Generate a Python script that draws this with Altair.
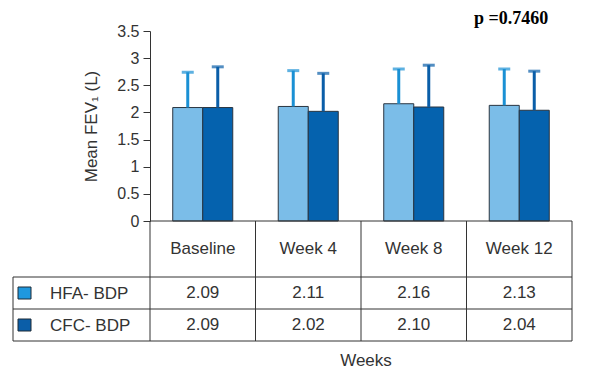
import altair as alt
import pandas as pd

# ---- data ----
weeks = ["Baseline", "Week 4", "Week 8", "Week 12"]
series = ["HFA- BDP", "CFC- BDP"]
hfa_mean = [2.09, 2.11, 2.16, 2.13]
cfc_mean = [2.09, 2.02, 2.10, 2.04]
hfa_upper = [2.74, 2.77, 2.80, 2.80]
cfc_upper = [2.84, 2.72, 2.87, 2.76]
y_ticks = [0, 0.5, 1, 1.5, 2, 2.5, 3, 3.5]
p_label = "p =0.7460"
y_title = "Mean FEV\u2081 (L)"
x_title = "Weeks"

bar_colors = ["#7bbde8", "#0562ae"]
err_colors = ["#1a90d4", "#0a5ea8"]
key_colors = ["#1f98de", "#0b5ea8"]
line_col = "#333333"
txt_col = "#333333"
FONT = "Liberation Sans"

rows = []
for s, means, ups in [(series[0], hfa_mean, hfa_upper), (series[1], cfc_mean, cfc_upper)]:
    for w, m, u in zip(weeks, means, ups):
        rows.append({"week": w, "series": s, "mean": m, "upper": u, "label": f"{m:.2f}"})
df = pd.DataFrame(rows)

# ---- layout (pixels, relative to plot origin) ----
W, H = 422, 190
LEFT = -137            # left edge of the legend column
HDR_BOT, ROW1_BOT, ROW2_BOT = 246, 278, 310
HDR_Y, ROW1_Y, ROW2_Y = 218, 262, 294

base = alt.Chart(df)
x_enc = alt.X("week:N", sort=weeks, scale=alt.Scale(paddingInner=0, paddingOuter=0), axis=None)
xoff = alt.XOffset("series:N", sort=series,
                   scale=alt.Scale(domain=series, paddingInner=0, paddingOuter=0.758))
y_scale = alt.Scale(domain=[0, 3.5], nice=False, zero=True)
y_axis = alt.Axis(values=y_ticks, format="~g", title=y_title, grid=False,
                  labelOverlap=False, labelFlush=False, tickCount=8)

bars = base.mark_bar(stroke="#2a3540", strokeWidth=1).encode(
    x=x_enc, xOffset=xoff,
    y=alt.Y("mean:Q", scale=y_scale, axis=y_axis),
    color=alt.Color("series:N", scale=alt.Scale(domain=series, range=bar_colors), legend=None),
)
stems = base.mark_rule(strokeWidth=3).encode(
    x=x_enc, xOffset=xoff,
    y=alt.Y("mean:Q", scale=y_scale, axis=y_axis), y2="upper:Q",
    color=alt.Color("series:N", scale=alt.Scale(domain=series, range=err_colors), legend=None),
)
caps = base.mark_tick(orient="horizontal", size=12, thickness=3).encode(
    x=x_enc, xOffset=xoff,
    y=alt.Y("upper:Q", scale=y_scale, axis=y_axis),
    color=alt.Color("series:N", scale=alt.Scale(domain=series, range=err_colors), legend=None),
)

one = alt.Chart(pd.DataFrame({"k": [0]}))

def hline(y, x0, x1):
    return one.mark_rule(color=line_col, strokeWidth=1).encode(
        x=alt.value(x0), x2=alt.value(x1), y=alt.value(y))

def vline(x, y0, y1):
    return one.mark_rule(color=line_col, strokeWidth=1).encode(
        x=alt.value(x), y=alt.value(y0), y2=alt.value(y1))

week_df = pd.DataFrame({"week": weeks})
col_lines = alt.Chart(week_df).mark_rule(color=line_col, strokeWidth=1).encode(
    x=alt.X("week:N", sort=weeks, bandPosition=0,
            scale=alt.Scale(paddingInner=0, paddingOuter=0), axis=None),
    y=alt.value(H), y2=alt.value(ROW2_BOT))
right_line = alt.Chart(week_df).transform_filter(
    alt.datum.week == weeks[-1]).mark_rule(color=line_col, strokeWidth=1).encode(
    x=alt.X("week:N", sort=weeks, bandPosition=1,
            scale=alt.Scale(paddingInner=0, paddingOuter=0), axis=None),
    y=alt.value(H), y2=alt.value(ROW2_BOT))

header = alt.Chart(week_df).mark_text(font=FONT, fontSize=17, color=txt_col, baseline="middle").encode(
    x=alt.X("week:N", sort=weeks, scale=alt.Scale(paddingInner=0, paddingOuter=0), axis=None),
    y=alt.value(HDR_Y), text="week:N")

def value_row(s, yv):
    return base.transform_filter(alt.datum.series == s).mark_text(
        font=FONT, fontSize=17, color=txt_col, baseline="middle").encode(
        x=x_enc, y=alt.value(yv), text="label:N")

def key(s, yv, col):
    sq = one.mark_rect(fill=col, stroke="#1d2a36", strokeWidth=1).encode(
        x=alt.value(LEFT + 5), x2=alt.value(LEFT + 18),
        y=alt.value(yv - 6), y2=alt.value(yv + 6))
    tx = alt.Chart(pd.DataFrame({"s": [s]})).mark_text(
        font=FONT, fontSize=17, color=txt_col, align="left", baseline="middle").encode(
        x=alt.value(LEFT + 37), y=alt.value(yv + 1), text="s:N")
    return sq + tx

p_text = alt.Chart(pd.DataFrame({"t": [p_label]})).mark_text(
    font="Liberation Serif", fontWeight="bold", fontSize=18, color="#000000",
    align="left", baseline="alphabetic").encode(
    x=alt.value(324), y=alt.value(-7), text="t:N")
weeks_text = alt.Chart(pd.DataFrame({"t": [x_title]})).mark_text(
    font=FONT, fontSize=17, color=txt_col, align="center", baseline="middle").encode(
    x=alt.value(216), y=alt.value(330), text="t:N")

chart = alt.layer(
    bars, stems, caps,
    hline(H, 0, W), hline(HDR_BOT, LEFT, W), hline(ROW1_BOT, LEFT, W), hline(ROW2_BOT, LEFT, W),
    vline(LEFT, HDR_BOT, ROW2_BOT), col_lines, right_line,
    header, value_row(series[0], ROW1_Y), value_row(series[1], ROW2_Y),
    key(series[0], ROW1_Y, key_colors[0]), key(series[1], ROW2_Y, key_colors[1]),
    p_text, weeks_text,
).resolve_scale(color="independent").properties(
    width=W, height=H,
    autosize=alt.AutoSizeParams(type="none"),
    padding={"left": 142, "top": 23, "right": 18, "bottom": 160},
).configure_view(stroke=None).configure_axis(
    domainColor=line_col, tickColor=line_col, tickSize=7,
    labelFont=FONT, labelFontSize=16, labelColor=txt_col, labelPadding=4,
    titleFont=FONT, titleFontSize=17, titleFontWeight="normal", titleColor=txt_col,
    titlePadding=16,
)

chart.save("out.html", embed_options={"renderer": "svg", "actions": False})
